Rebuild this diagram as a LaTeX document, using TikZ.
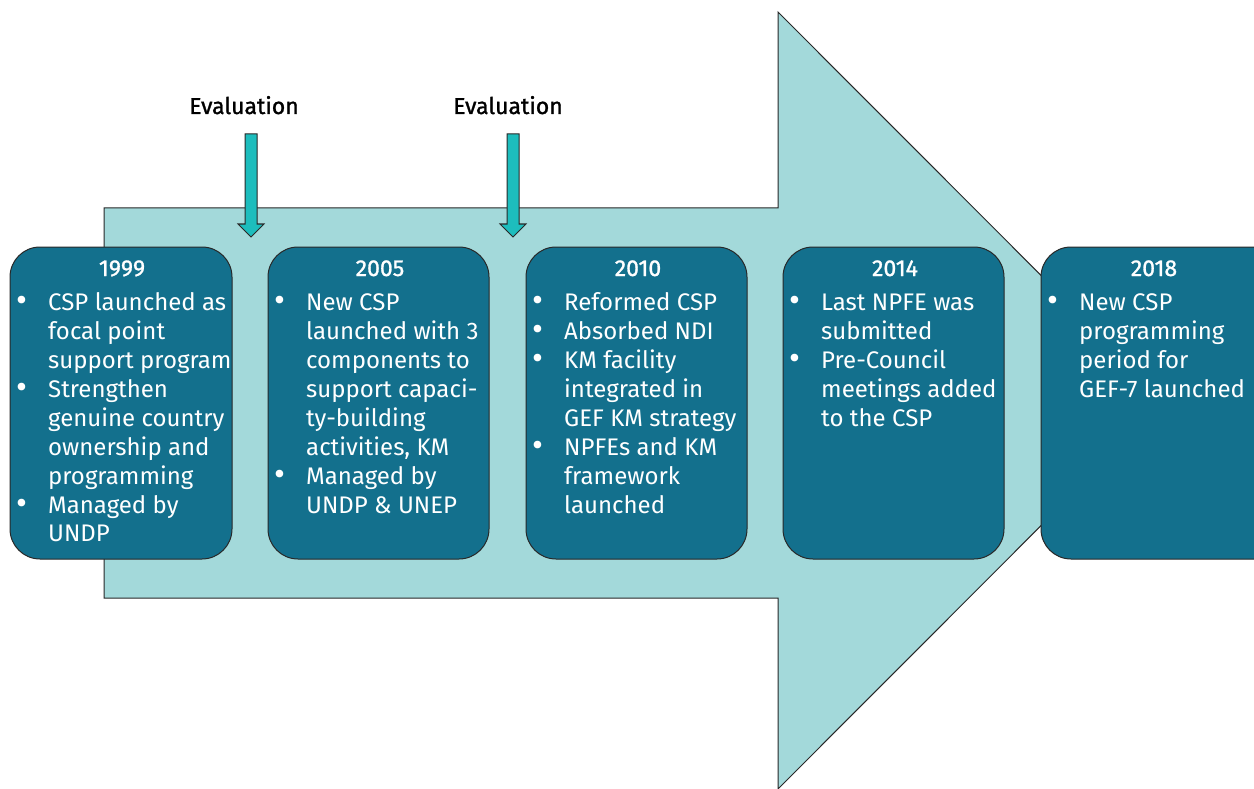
\documentclass[tikz,border=0pt]{standalone}
\usepackage{fontspec}
\setmainfont{Fira Sans}
\newfontfamily\medfont{Fira Sans}[FakeBold=1.2]
\usepackage{array}
\definecolor{boxblue}{RGB}{19,112,141}
\definecolor{lightteal}{RGB}{163,217,218}
\definecolor{evalteal}{RGB}{29,189,189}
\definecolor{edge}{RGB}{40,40,40}
\newcommand\bigdot{\hspace*{-2pt}\raisebox{-0.08em}{\scalebox{1.4}{\textbullet}}}
\newcommand\bitem[1]{\bigdot & #1\\}
\newcommand\contline[1]{& #1\\}
\tikzset{
  yearbox/.style={draw=edge, line width=1pt, fill=boxblue, rounded corners=30pt},
  yeartext/.style={text=white, font=\medfont\fontsize{23}{24}\selectfont, anchor=base},
  bodytext/.style={text=white, font=\fontsize{24}{29}\selectfont, anchor=base west, inner sep=0pt},
  evallabel/.style={font=\medfont\fontsize{23}{24}\selectfont, anchor=base},
  evalarrow/.style={draw=edge, line width=1pt, fill=evalteal},
}
\newcommand\bodytab[1]{\begin{tabular}[t]{@{}p{30pt}@{}l@{}}#1\end{tabular}}
\begin{document}
\begin{tikzpicture}[x=1pt,y=-1pt]
\clip (0,0) rectangle (1254,789);
\fill[white] (0,0) rectangle (1254,789);
% big arrow
\draw[edge, line width=1pt, fill=lightteal] (104,208) -- (778,208) -- (778,12) -- (1166,400.5) -- (778,789) -- (778,598) -- (104,598) -- cycle;
% evaluation arrows
\foreach \cx/\nm in {251/evA, 513/evB}{
  \draw[evalarrow] (\cx-6,134) -- (\cx+6,134) -- (\cx+6,224) -- (\cx+13,224) -- (\cx,237) -- (\cx-13,224) -- (\cx-6,224) -- cycle;
}
\node[evallabel] (evl1) at (244,114) {Evaluation};
\node[evallabel] (evl2) at (508,114) {Evaluation};
% boxes
\draw[yearbox] (10,247) rectangle (232,559);
\draw[yearbox] (268,247) rectangle (489,559);
\draw[yearbox] (526,247) rectangle (747,559);
\draw[yearbox] (783,247) rectangle (1004,559);
\draw[yearbox] (1041,247) rectangle (1290,559);
\node[yeartext] (y1) at (122,276) {1999};
\node[yeartext] (y2) at (380,276) {2005};
\node[yeartext] (y3) at (638,276) {2010};
\node[yeartext] (y4) at (895,276) {2014};
\node[yeartext] (y5) at (1154,276) {2018};
\node[bodytext] (b1) at (18,310) {\bodytab{\bitem{CSP launched as}\contline{focal point}\contline{support program}\bitem{Strengthen}\contline{genuine country}\contline{ownership and}\contline{programming}\bitem{Managed by}\contline{UNDP}}};
\node[bodytext] (b2) at (276,310) {\bodytab{\bitem{New CSP}\contline{launched with 3}\contline{components to}\contline{support capaci-}\contline{ty-building}\contline{activities, KM}\bitem{Managed by}\contline{UNDP \& UNEP}}};
\node[bodytext] (b3) at (534,310) {\bodytab{\bitem{Reformed CSP}\bitem{Absorbed NDI}\bitem{KM facility}\contline{integrated in}\contline{GEF KM strategy}\bitem{NPFEs and KM}\contline{framework}\contline{launched}}};
\node[bodytext] (b4) at (791,310) {\bodytab{\bitem{Last NPFE was}\contline{submitted}\bitem{Pre-Council}\contline{meetings added}\contline{to the CSP}}};
\node[bodytext] (b5) at (1049,310) {\bodytab{\bitem{New CSP}\contline{programming}\contline{period for}\contline{GEF-7 launched}}};
\end{tikzpicture}
\end{document}
